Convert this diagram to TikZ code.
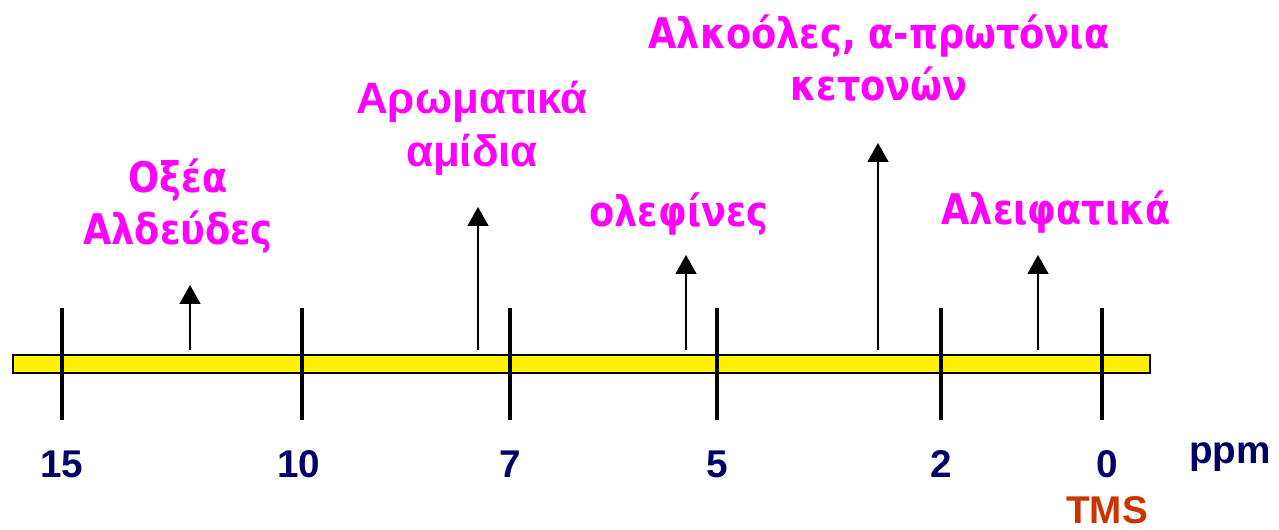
\documentclass[tikz,border=0pt]{standalone}
\usepackage{fontspec}
\setmainfont{Liberation Sans}
\newfontfamily\groupfont{DejaVu Sans}[FakeStretch=0.87]
\usetikzlibrary{arrows.meta}
\definecolor{ppmblue}{HTML}{000066}
\definecolor{tmsred}{HTML}{CC3300}
\definecolor{groupmagenta}{HTML}{FF00FF}

\begin{document}
\begin{tikzpicture}
    [x=0.02cm, y=-0.02cm,
    TickLine/.style={line width=2pt},
    PeakArrow/.style={-{Triangle[width=4.2mm,length=3.8mm]}, line width=0.8pt},
    ScaleLabel/.style={text=ppmblue, font=\fontsize{22}{26}\selectfont\bfseries},
    GroupLabel/.style={text=groupmagenta, align=center, font=\groupfont\fontsize{24}{30}\selectfont\bfseries}]
    \useasboundingbox (0,0) rectangle (1279,530);
    % yellow scale bar
    \coordinate (barL) at (13,355);
    \coordinate (barR) at (1150,373);
    \draw[fill=yellow, line width=0.6pt] (barL) rectangle (barR);
    % ticks
    \coordinate (t15top) at (62,308);  \coordinate (t15bot) at (62,420);
    \coordinate (t10top) at (302,308); \coordinate (t10bot) at (302,420);
    \coordinate (t7top) at (510,308);  \coordinate (t7bot) at (510,420);
    \coordinate (t5top) at (717,308);  \coordinate (t5bot) at (717,420);
    \coordinate (t2top) at (941,308);  \coordinate (t2bot) at (941,420);
    \coordinate (t0top) at (1102,308); \coordinate (t0bot) at (1102,420);
    \draw[TickLine] (t15top) -- (t15bot);
    \draw[TickLine] (t10top) -- (t10bot);
    \draw[TickLine] (t7top) -- (t7bot);
    \draw[TickLine] (t5top) -- (t5bot);
    \draw[TickLine] (t2top) -- (t2bot);
    \draw[TickLine] (t0top) -- (t0bot);
    % scale labels
    \node[ScaleLabel] (l15) at (62,464) {15};
    \node[ScaleLabel] (l10) at (299,464) {10};
    \node[ScaleLabel] (l7) at (510,464) {7};
    \node[ScaleLabel] (l5) at (717,464) {5};
    \node[ScaleLabel] (l2) at (941,464) {2};
    \node[ScaleLabel] (l0) at (1107,464) {0};
    \node[ScaleLabel, anchor=base] (ppm) at (1230,463) {ppm};
    \node[ScaleLabel, text=tmsred] (tms) at (1107,510) {TMS};
    % peaks
    \coordinate (p1base) at (190,350); \coordinate (p1tip) at (190,285);
    \coordinate (p2base) at (478,350); \coordinate (p2tip) at (478,207);
    \coordinate (p3base) at (686,350); \coordinate (p3tip) at (686,255);
    \coordinate (p4base) at (878,350); \coordinate (p4tip) at (878,143);
    \coordinate (p5base) at (1038,350); \coordinate (p5tip) at (1038,255);
    \draw[PeakArrow] (p1base) -- (p1tip);
    \draw[PeakArrow] (p2base) -- (p2tip);
    \draw[PeakArrow] (p3base) -- (p3tip);
    \draw[PeakArrow] (p4base) -- (p4tip);
    \draw[PeakArrow] (p5base) -- (p5tip);
    % group labels
    \node[GroupLabel] (acids) at (178,206) {Οξέα\\Αλδεύδες};
    \node[GroupLabel, font=\fontsize{25}{30}\selectfont\bfseries] (arom) at (472,128) {Αρωματικά\\αμίδια};
    \node[GroupLabel] (olef) at (679,214) {ολεφίνες};
    \node[GroupLabel] (alco) at (879,58) {Αλκοόλες, α-πρωτόνια\\κετονών};
    \node[GroupLabel] (aliph) at (1056,212) {Αλειφατικά};
\end{tikzpicture}
\end{document}
